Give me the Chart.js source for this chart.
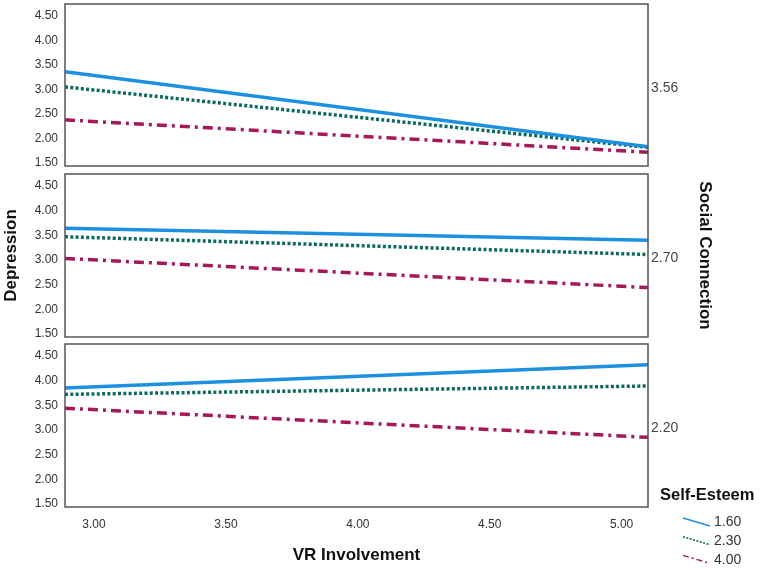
<!DOCTYPE html>
<html>
<head>
<meta charset="utf-8">
<script src="https://cdn.jsdelivr.net/npm/chart.js@4"></script>
<style>
  body { margin: 0; background: #fff; }
  #wrap { position: relative; width: 767px; height: 568px; font-family: "Liberation Sans", Arial, sans-serif; }
  .panel { position: absolute; left: 0; width: 767px; }
</style>
</head>
<body>
<div id="wrap">
  <div class="panel" style="top:0;height:170px"><canvas id="p1"></canvas></div>
  <div class="panel" style="top:170px;height:170px"><canvas id="p2"></canvas></div>
  <div class="panel" style="top:340px;height:228px"><canvas id="p3"></canvas></div>
</div>
<script>
"use strict"

// VR Involvement range shown on the x axis
const xRange = [2.89, 5.10];
const xTicks = [3.00, 3.50, 4.00, 4.50, 5.00];
const yTicks = [1.50, 2.00, 2.50, 3.00, 3.50, 4.00, 4.50];

// Self-Esteem groups
const groups = ['1.60', '2.30', '4.00'];
const groupColors = ['#1e90e0', '#0c6b5c', '#a3195b'];

// Social Connection levels, one panel each (top to bottom)
const panelLabels = ['3.56', '2.70', '2.20'];

// Depression at start / end of x range, per panel, per group
const panel1 = [[3.32, 1.79], [3.01, 1.78], [2.34, 1.68]];
const panel2 = [[3.60, 3.36], [3.43, 3.07], [2.99, 2.40]];
const panel3 = [[3.81, 4.28], [3.68, 3.85], [3.40, 2.81]];

const dashes = [[], [3, 2.3], [10, 5, 3, 5]];
const widths = [3.5, 3.5, 3.5];

const byId = id => document.getElementById(id);

// drop the automatic label overflow padding so the plot boxes sit where we want
function noPad(s) {
    s.paddingTop = 0;
    s.paddingBottom = 0;
    s.paddingLeft = 0;
    s.paddingRight = 0;
}

/**
 * Box around the plot area plus the Social Connection value on the right.
 */
const framePlugin = {
    id: 'frame',
    afterDatasetsDraw(chart, args, opts) {
        const { ctx, chartArea: a } = chart;
        ctx.save();
        ctx.strokeStyle = '#555';
        ctx.lineWidth = 1.5;
        ctx.strokeRect(a.left, a.top, a.right - a.left, a.bottom - a.top);
        ctx.fillStyle = '#444';
        ctx.font = '14px "Liberation Sans", Arial, sans-serif';
        ctx.textBaseline = 'middle';
        ctx.fillText(opts.label, a.right + 3, (a.top + a.bottom) / 2 + 3);
        ctx.restore();
    }
};

/**
 * Legend with sloped line samples, drawn on the bottom panel only.
 */
const legendPlugin = {
    id: 'slopeLegend',
    afterDraw(chart, args, opts) {
        if (!opts.show) return;
        const ctx = chart.ctx;
        const top = chart.chartArea.bottom;
        ctx.save();
        ctx.fillStyle = '#111';
        ctx.font = 'bold 16.5px "Liberation Sans", Arial, sans-serif';
        ctx.textBaseline = 'middle';
        ctx.fillText('Self-Esteem', 660, top - 12);
        ctx.font = '14px "Liberation Sans", Arial, sans-serif';
        chart.data.datasets.forEach((ds, i) => {
            const y = top + 14.5 + i * 18.7;
            ctx.strokeStyle = ds.borderColor;
            ctx.lineWidth = 1.5;
            ctx.setLineDash(i === 0 ? [] : (i === 1 ? [2, 1.5] : [6, 3, 2, 3]));
            ctx.beginPath();
            ctx.moveTo(683, y - 3.5);
            ctx.lineTo(710, y + 4.5);
            ctx.stroke();
            ctx.setLineDash([]);
            ctx.fillStyle = '#333';
            ctx.fillText(groups[i], 714, y + 1);
        });
        ctx.restore();
    }
};

function buildPanel(id, values, label, opts) {
    const datasets = groups.map((g, i) => ({
        label: g,
        data: [{ x: xRange[0], y: values[i][0] }, { x: xRange[1], y: values[i][1] }],
        borderColor: groupColors[i],
        borderWidth: widths[i],
        borderDash: dashes[i],
        pointRadius: 0,
        fill: false
    }));

    return new Chart(byId(id), {
        type: 'line',
        data: { datasets },
        plugins: [framePlugin, legendPlugin],
        options: {
            responsive: true,
            maintainAspectRatio: false,
            animation: false,
            layout: { padding: { top: opts.padTop, bottom: opts.padBottom, left: 0, right: 0 } },
            plugins: {
                legend: { display: false },
                tooltip: { enabled: false },
                frame: { label },
                slopeLegend: { show: !!opts.legend }
            },
            scales: {
                x: {
                    type: 'linear',
                    min: xRange[0],
                    max: xRange[1],
                    display: true,
                    grid: { display: false, drawTicks: false },
                    border: { display: false },
                    afterBuildTicks: s => { s.ticks = xTicks.map(v => ({ value: v })); },
                    afterFit: s => { s.height = opts.xHeight; noPad(s); },
                    ticks: {
                        display: !!opts.xLabels,
                        padding: 10,
                        color: '#333',
                        font: { size: 12, family: '"Liberation Sans", Arial, sans-serif' },
                        callback: v => v.toFixed(2)
                    },
                    title: {
                        display: !!opts.xLabels,
                        text: 'VR Involvement',
                        color: '#111',
                        padding: { top: 0, bottom: 2 },
                        font: { size: 17, weight: 'bold', family: '"Liberation Sans", Arial, sans-serif' }
                    }
                },
                y: {
                    min: 1.40,
                    max: 4.70,
                    grid: { display: false, drawTicks: false },
                    border: { display: false },
                    afterBuildTicks: s => { s.ticks = yTicks.map(v => ({ value: v })); },
                    afterFit: s => { s.width = 65; noPad(s); },
                    ticks: {
                        padding: 7,
                        labelOffset: 2,
                        color: '#333',
                        font: { size: 12, family: '"Liberation Sans", Arial, sans-serif' },
                        callback: v => v.toFixed(2)
                    },
                    title: {
                        display: !!opts.yTitle,
                        text: 'Depression',
                        color: '#111',
                        padding: { top: 1, bottom: 0 },
                        font: { size: 17, weight: 'bold', family: '"Liberation Sans", Arial, sans-serif' }
                    }
                },
                y2: {
                    position: 'right',
                    min: 1.40,
                    max: 4.70,
                    grid: { display: false, drawTicks: false },
                    border: { display: false },
                    ticks: { display: false },
                    afterFit: s => { s.width = 119; noPad(s); },
                    title: {
                        display: !!opts.rightTitle,
                        text: 'Social Connection',
                        color: '#111',
                        padding: { top: 52, bottom: 0 },
                        font: { size: 17, weight: 'bold', family: '"Liberation Sans", Arial, sans-serif' }
                    }
                }
            }
        }
    });
}

buildPanel('p1', panel1, panelLabels[0], { padTop: 4, padBottom: 4, xHeight: 0 });
buildPanel('p2', panel2, panelLabels[1], { padTop: 4, padBottom: 3, xHeight: 0, yTitle: true, rightTitle: true });
buildPanel('p3', panel3, panelLabels[2], { padTop: 4, padBottom: 0, xHeight: 61, xLabels: true, legend: true });
</script>
</body>
</html>
